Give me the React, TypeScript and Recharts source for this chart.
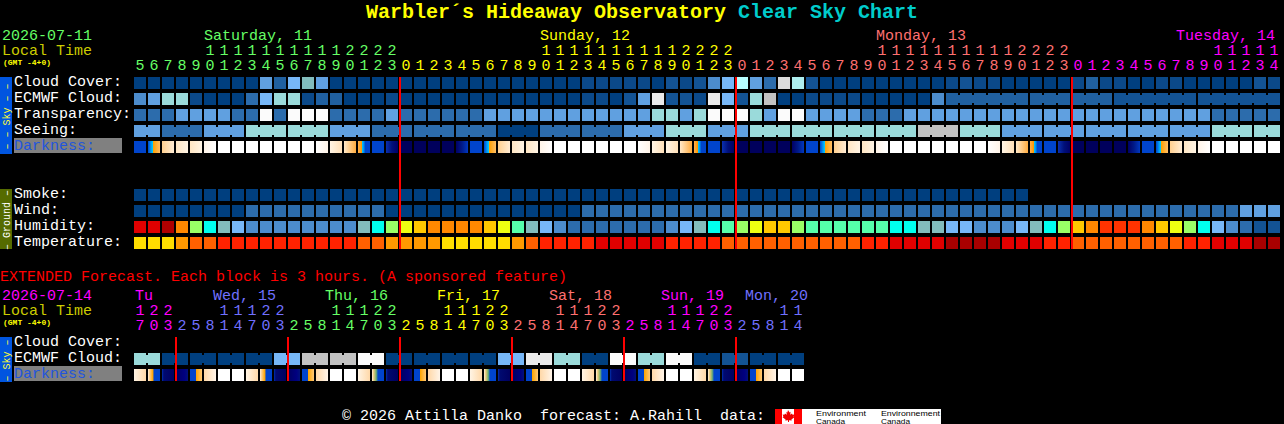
import { ScatterChart, Scatter, XAxis, YAxis, ReferenceLine } from "recharts";

// hour labels of the hourly block
const HOURS = [
  5, 6, 7, 8, 9, 10, 11, 12, 13, 14, 15, 16, 17, 18, 19, 20, 21, 22, 23,
  0, 1, 2, 3, 4, 5, 6, 7, 8, 9, 10, 11, 12, 13, 14, 15, 16, 17, 18, 19, 20, 21, 22, 23,
  0, 1, 2, 3, 4, 5, 6, 7, 8, 9, 10, 11, 12, 13, 14, 15, 16, 17, 18, 19, 20, 21, 22, 23,
  0, 1, 2, 3, 4, 5, 6, 7, 8, 9, 10, 11, 12, 13, 14,
];
const DAY_INDEX = [
  0, 0, 0, 0, 0, 0, 0, 0, 0, 0, 0, 0, 0, 0, 0, 0, 0, 0, 0,
  1, 1, 1, 1, 1, 1, 1, 1, 1, 1, 1, 1, 1, 1, 1, 1, 1, 1, 1, 1, 1, 1, 1, 1,
  2, 2, 2, 2, 2, 2, 2, 2, 2, 2, 2, 2, 2, 2, 2, 2, 2, 2, 2, 2, 2, 2, 2, 2,
  3, 3, 3, 3, 3, 3, 3, 3, 3, 3, 3, 3, 3, 3, 3,
];
const DAY_COLORS = ["#66ff66", "#ffff00", "#ff7070", "#ff00ff"];

// hour labels of the 3-hour block
const EXT_HOURS = [
  17, 20, 23,
  2, 5, 8, 11, 14, 17, 20, 23,
  2, 5, 8, 11, 14, 17, 20, 23,
  2, 5, 8, 11, 14, 17, 20, 23,
  2, 5, 8, 11, 14, 17, 20, 23,
  2, 5, 8, 11, 14, 17, 20, 23,
  2, 5, 8, 11, 14,
];
const EXT_DAY_INDEX = [
  0, 0, 0,
  1, 1, 1, 1, 1, 1, 1, 1,
  2, 2, 2, 2, 2, 2, 2, 2,
  3, 3, 3, 3, 3, 3, 3, 3,
  4, 4, 4, 4, 4, 4, 4, 4,
  5, 5, 5, 5, 5, 5, 5, 5,
  6, 6, 6, 6, 6,
];
const EXT_DAY_COLORS = ["#ff00ff", "#7070ff", "#66ff66", "#ffff00", "#ff7070", "#ff00ff", "#7070ff"];

const SKY_LABELS = ["Cloud Cover:", "ECMWF Cloud:", "Transparency:", "Seeing:", "Darkness:"];
const GROUND_LABELS = ["Smoke:", "Wind:", "Humidity:", "Temperature:"];
const EXT_LABELS = ["Cloud Cover:", "ECMWF Cloud:", "Darkness:"];

const BLUE_LEVELS = [
  "#003f7f", "#0b4989", "#135394", "#2060a0", "#2c6cac", "#4c8ccc", "#60a0e0", "#77b7f7",
  "#82bcbc", "#9adada", "#aeeeee", "#c2c2c2", "#dcdcdc", "#eaeaea", "#fbfbfb", "#b8ffff",
];
const HUMIDITY_LEVELS = [
  "#b00000", "#e00000", "#ff3300", "#ff8800", "#ffc800", "#eeff11", "#99ff66", "#55ffaa",
  "#00ffee", "#82bcbc", "#77b7f7", "#4c8ccc", "#2c6cac", "#135394",
];
const TEMPERATURE_LEVELS = ["#a80000", "#e00000", "#ff2200", "#ff6000", "#ff9900", "#ffdd00"];

const CLOUD = [
  0, 0, 0, 0, 0, 0, 0, 0, 0, 6, 3, 7, 8, 6, 0, 0, 0, 0, 0,
  0, 0, 0, 0, 0, 0, 0, 0, 0, 0, 0, 0, 0, 1, 1, 1, 1, 1, 0, 2, 1, 2, 5, 7,
  15, 6, 4, 12, 10, 2, 0, 0, 0, 0, 0, 0, 0, 0, 0, 1, 2, 1, 1, 0, 0, 0, 0, 0,
  1, 3, 1, 1, 0, 0, 1, 1, 0, 0, 0, 0, 0, 2, 1,
];
const ECMWF = [
  5, 6, 9, 9, 1, 0, 0, 0, 4, 7, 9, 9, 1, 3, 3, 0, 0, 0, 1,
  0, 0, 0, 0, 0, 0, 0, 0, 0, 0, 0, 0, 0, 1, 1, 0, 2, 6, 13, 2, 2, 1, 13, 7,
  2, 9, 11, 0, 0, 1, 1, 1, 1, 0, 0, 0, 0, 0, 5, 3, 3, 3, 3, 3, 3, 3, 3, 3,
  3, 3, 3, 2, 2, 2, 2, 2, 2, 2, 2, 2, 2, 2, 2,
];
const ECMWF_RUNS = [
  1, 1, 1, 1, 1, 1, 1, 1, 1, 1, 1, 1, 1, 1, 1, 1, 1, 1, 1, 1, 1, 1, 1, 1, 1, 1, 1, 1, 1,
  1, 1, 1, 1, 1, 1, 1, 1, 1, 1, 1, 1, 1, 1, 1, 1, 1, 1, 1, 1, 1, 1, 1, 1, 1, 1, 1, 1, 1,
  6, 3, 3, 6, 6,
];
const TRANSPARENCY = [
  4, 4, 4, 6, 6, 6, 6, 4, 4, 14, 4, 14, 14, 14, 4, 4, 4, 4, 6,
  4, 4, 4, 4, 4, 4, 6, 6, 6, 6, 6, 6, 6, 6, 6, 6, 6, 6, 9, 9, 6, 9, 14, 14,
  14, 9, 6, 14, 14, 6, 6, 6, 6, 4, 4, 4, 6, 6, 6, 6, 6, 6, 6, 6, 6, 6, 6, 6,
  6, 6, 6, 6, 6, 6, 6, 6, 6, 6, 4, 4, 4, 4, 4,
];
const SEEING = [
  6, 6, 4, 4, 4, 6, 6, 6, 9, 9, 9, 9, 9, 9, 6, 6, 6, 4, 4,
  4, 4, 4, 4, 4, 4, 4, 0, 0, 0, 4, 4, 4, 4, 4, 4, 6, 6, 6, 9, 9, 9, 6, 6,
  6, 9, 9, 9, 9, 9, 9, 9, 9, 9, 9, 9, 9, 11, 11, 11, 9, 9, 9, 6, 6, 6, 6, 6,
  6, 6, 6, 6, 6, 6, 6, 6, 6, 6, 9, 9, 9, 9, 9,
];
const SEEING_RUNS = [2, 3, 3, 3, 3, 3, 3, 3, 3, 3, 3, 3, 3, 3, 3, 3, 3, 3, 3, 3, 3, 3, 3, 3, 3, 3, 3, 2];
const DARKNESS = [
  3, 4, 6, 7, 7, 8, 9, 9, 9, 9, 9, 9, 9, 10, 11, 12, 5, 3, 1,
  0, 0, 0, 0, 2, 3, 4, 6, 7, 7, 8, 9, 9, 9, 9, 9, 9, 10, 11, 11, 12, 5, 3, 1,
  0, 0, 0, 0, 2, 3, 4, 6, 7, 7, 8, 9, 9, 9, 9, 9, 9, 9, 10, 11, 12, 5, 3, 1,
  0, 0, 0, 0, 2, 3, 4, 6, 7, 8, 9, 9, 9, 9, 9,
];
const SMOKE = [
  0, 0, 0, 0, 0, 0, 0, 0, 0, 0, 0, 0, 0, 0, 0, 0, 0, 0, 0,
  0, 0, 0, 0, 0, 0, 0, 0, 0, 0, 0, 0, 0, 0, 0, 0, 0, 0, 0, 0, 0, 0, 0, 0,
  0, 0, 0, 0, 0, 0, 0, 0, 0, 0, 0, 0, 0, 0, 0, 0, 0, 0, 0, 0, 0,
];
const WIND = [
  0, 0, 0, 0, 0, 0, 0, 0, 4, 4, 4, 4, 4, 4, 4, 4, 4, 4, 0,
  0, 0, 0, 0, 0, 0, 0, 0, 0, 0, 0, 0, 0, 4, 4, 4, 4, 4, 4, 4, 4, 4, 4, 4,
  4, 4, 4, 4, 4, 4, 4, 4, 4, 4, 4, 4, 4, 4, 4, 4, 4, 4, 4, 4, 4, 4, 4, 4,
  4, 4, 4, 4, 4, 4, 4, 4, 4, 4, 4, 4, 6, 6, 6,
];
const HUMIDITY = [
  1, 1, 0, 3, 6, 8, 9, 10, 11, 11, 11, 11, 11, 11, 11, 11, 9, 8, 6,
  5, 4, 3, 3, 3, 3, 4, 5, 7, 9, 10, 11, 12, 12, 12, 12, 12, 12, 12, 11, 10, 9, 8, 7,
  6, 5, 4, 4, 6, 7, 7, 7, 7, 7, 7, 8, 8, 9, 9, 10, 10, 11, 11, 11, 10, 9, 8, 6,
  4, 3, 2, 2, 2, 3, 4, 5, 6, 8, 10, 11, 12, 13, 13,
];
const TEMPERATURE = [
  5, 5, 5, 4, 3, 3, 2, 2, 2, 2, 2, 2, 2, 2, 2, 2, 3, 3, 4,
  4, 4, 4, 5, 5, 5, 5, 5, 4, 3, 2, 2, 2, 2, 1, 1, 1, 1, 1, 2, 2, 2, 2, 3,
  3, 3, 3, 3, 3, 3, 3, 3, 3, 2, 2, 1, 1, 1, 1, 0, 0, 0, 0, 1, 1, 1, 2, 2,
  3, 3, 3, 3, 3, 3, 3, 3, 2, 2, 1, 1, 1, 0, 0,
];

const EXT_ECMWF = [
  9, 9, 0, 0, 0, 0, 0, 0, 0, 0, 7, 7, 11, 11, 11, 11, 14, 14, 0, 0, 0, 0, 0, 0,
  0, 0, 7, 7, 13, 13, 9, 9, 0, 0, 14, 14, 9, 9, 14, 14, 0, 0, 2, 2, 0, 0, 0, 0,
];
const EXT_ECMWF_RUNS = [2, 2, 2, 2, 2, 2, 2, 2, 2, 2, 2, 2, 2, 2, 2, 2, 2, 2, 2, 2, 2, 2, 2, 2];
const EXT_DARKNESS = [
  13, 14, 16, 17, 18, 19, 9, 9,
  13, 14, 16, 17, 18, 19, 9, 9,
  13, 15, 16, 17, 18, 19, 9, 9,
  13, 15, 16, 17, 18, 19, 9, 9,
  13, 15, 16, 17, 18, 19, 9, 9,
  13, 15, 16, 17, 18, 19, 9, 9,
];

// gradient stops for every darkness block, [offset, colour]
const DARK_STOPS: [number, string][][] = [
  [[0, "#00005c"], [1, "#00005c"]],
  [[0, "#0a30b0"], [0.5, "#00107a"], [1, "#000066"]],
  [[0, "#000066"], [0.5, "#001a88"], [1, "#0038c0"]],
  [[0, "#0044cc"], [1, "#0044cc"]],
  [[0, "#0044cc"], [0.2, "#0088ee"], [0.4, "#00ccff"], [0.42, "#ffa000"], [1, "#ffbe66"]],
  [[0, "#ffb050"], [0.3, "#ff9900"], [0.33, "#00ccff"], [0.5, "#0088ee"], [0.6, "#0044cc"], [1, "#0044cc"]],
  [[0, "#ffd090"], [1, "#ffecd4"]],
  [[0, "#ffe6c4"], [1, "#fff4e4"]],
  [[0, "#fff4e8"], [1, "#ffffff"]],
  [[0, "#ffffff"], [1, "#ffffff"]],
  [[0, "#ffffff"], [1, "#fff4e8"]],
  [[0, "#fff4e4"], [1, "#ffe0b8"]],
  [[0, "#ffe8c8"], [1, "#ffac40"]],
  [[0, "#fff4e4"], [1, "#ffd8a8"]],
  [[0, "#fff0dc"], [0.1, "#ffd8a0"], [0.4, "#ffa500"], [0.5, "#0044cc"], [1, "#0044cc"]],
  [[0, "#fff0dc"], [0.15, "#e8c878"], [0.35, "#70b070"], [0.5, "#0044cc"], [1, "#0044cc"]],
  [[0, "#0030b0"], [0.15, "#000a70"], [1, "#000060"]],
  [[0, "#000060"], [0.7, "#000080"], [1, "#00107a"]],
  [[0, "#0044cc"], [0.5, "#0044cc"], [0.52, "#ffa500"], [1, "#ffc878"]],
  [[0, "#ffd8a8"], [1, "#fff4e8"]],
];

const FONT = "'Liberation Mono', monospace";
const BLOCK = 12; // block size, px
const GAP = 2;
const NOTCH = 2;
const WIDTH = 1284;
const HEIGHT = 424;

interface Cell {
  x: number;
  y: number;
  fill: string;
  joined: boolean;
}

function rowCells(values: number[], row: number, colors: string[] | null, runs?: number[]): Cell[] {
  const ends = new Set<number>();
  if (runs) {
    let at = 0;
    runs.forEach((r) => {
      at += r;
      ends.add(at - 1);
    });
  }
  return values.map((v, i) => ({
    x: i,
    y: row + 0.5,
    fill: colors ? colors[v] : `url(#dark-${v})`,
    joined: !!runs && !ends.has(i) && i < values.length - 1,
  }));
}

const BlockShape = (props: any) => {
  const { cx, cy, payload } = props;
  return (
    <g>
      <rect x={cx} y={cy - BLOCK / 2} width={BLOCK} height={BLOCK} fill={payload.fill} />
      {payload.joined && (
        <rect
          x={cx + BLOCK}
          y={cy - BLOCK / 2 + NOTCH}
          width={GAP}
          height={BLOCK - NOTCH * 2}
          fill={payload.fill}
        />
      )}
    </g>
  );
};

const darkDefs = (
  <defs>
    {DARK_STOPS.map((stops, i) => (
      <linearGradient key={i} id={`dark-${i}`} x1="0" y1="0" x2="1" y2="0">
        {stops.map(([o, c], j) => (
          <stop key={j} offset={o} stopColor={c} />
        ))}
      </linearGradient>
    ))}
  </defs>
);

const hourTick = (hours: number[], dayIndex: number[], colors: string[], tensY: number, unitsY: number) => (p: any) => {
  const i = p.payload.value as number;
  const h = hours[i];
  const fill = colors[dayIndex[i]];
  return (
    <g fontFamily={FONT} fontSize={15} textAnchor="middle" fill={fill}>
      {h >= 10 && (
        <text x={p.x + 6} y={tensY} fill={fill}>
          {Math.floor(h / 10)}
        </text>
      )}
      <text x={p.x + 6} y={unitsY} fill={fill}>
        {h % 10}
      </text>
    </g>
  );
};

const rowTick = (labels: Record<number, string>) => (p: any) => {
  const label = labels[p.payload.value];
  if (!label) return <g />;
  const dark = label === "Darkness:";
  return (
    <g>
      {dark && <rect x={14} y={p.y - 9} width={108} height={15} fill="#808080" />}
      <text x={14} y={p.y + 3} fontFamily={FONT} fontSize={15} fill={dark ? "#2255dd" : "#ffffff"} textAnchor="start">
        {label}
      </text>
    </g>
  );
};

const T = ({ x, y, fill, size = 15, children, bold }: any) => (
  <text
    x={x}
    y={y}
    fill={fill}
    fontFamily={FONT}
    fontSize={size}
    fontWeight={bold ? 700 : 400}
    style={{ whiteSpace: "pre" }}
  >
    {children}
  </text>
);

const Band = ({ y, height, fill, color, label }: any) => (
  <g>
    <rect x={0} y={y} width={12} height={height} fill={fill} />
    <text
      transform={`translate(9.5 ${y + height / 2 + 1}) rotate(-90)`}
      textAnchor="middle"
      fontFamily={FONT}
      fontSize={10}
      fill={color}
    >
      {label}
    </text>
  </g>
);

const MAIN_ROW_LABELS: Record<number, string> = {
  0.5: SKY_LABELS[0],
  1.5: SKY_LABELS[1],
  2.5: SKY_LABELS[2],
  3.5: SKY_LABELS[3],
  4.5: SKY_LABELS[4],
  7.5: GROUND_LABELS[0],
  8.5: GROUND_LABELS[1],
  9.5: GROUND_LABELS[2],
  10.5: GROUND_LABELS[3],
};
const EXT_ROW_LABELS: Record<number, string> = {
  0.5: EXT_LABELS[0],
  1.5: EXT_LABELS[1],
  2.5: EXT_LABELS[2],
};

const MIDNIGHTS = [19, 43, 67];
const EXT_MIDNIGHTS = [3, 11, 19, 27, 35, 43];

function MainChart() {
  const series = [
    rowCells(CLOUD, 0, BLUE_LEVELS),
    rowCells(ECMWF, 1, BLUE_LEVELS, ECMWF_RUNS),
    rowCells(TRANSPARENCY, 2, BLUE_LEVELS),
    rowCells(SEEING, 3, BLUE_LEVELS, SEEING_RUNS),
    rowCells(DARKNESS, 4, null),
    rowCells(SMOKE, 7, BLUE_LEVELS),
    rowCells(WIND, 8, BLUE_LEVELS),
    rowCells(HUMIDITY, 9, HUMIDITY_LEVELS),
    rowCells(TEMPERATURE, 10, TEMPERATURE_LEVELS),
  ];
  return (
    <ScatterChart
      width={WIDTH}
      height={HEIGHT}
      margin={{ top: 0, right: 2, bottom: 173, left: 0 }}
      style={{ position: "absolute", left: 0, top: 0 }}
    >
      {darkDefs}
      <XAxis
        xAxisId={0}
        type="number"
        dataKey="x"
        orientation="top"
        height={75}
        domain={[0, 82]}
        ticks={HOURS.map((_, i) => i)}
        interval={0}
        axisLine={false}
        tickLine={false}
        tick={hourTick(HOURS, DAY_INDEX, DAY_COLORS, 55, 70)}
      />
      <YAxis
        yAxisId={0}
        type="number"
        dataKey="y"
        reversed
        width={134}
        domain={[0, 11]}
        ticks={Object.keys(MAIN_ROW_LABELS).map(Number)}
        interval={0}
        axisLine={false}
        tickLine={false}
        tick={rowTick(MAIN_ROW_LABELS)}
      />
      {series.map((cells, i) => (
        <Scatter key={i} data={cells} shape={BlockShape} isAnimationActive={false} />
      ))}

      <text x={366} y={18} fontFamily={FONT} fontSize={20} fontWeight={700}>
        <tspan fill="#ffff00">Warbler´s Hideaway Observatory </tspan>
        <tspan fill="#00cccc">Clear Sky Chart</tspan>
      </text>

      <T x={2} y={40} fill="#66ff66">2026-07-11</T>
      <T x={2} y={55} fill="#cccc00">Local Time</T>
      <T x={3} y={65} fill="#ffff00" size={8} bold>(GMT -4+0)</T>
      <T x={204} y={40} fill={DAY_COLORS[0]}>Saturday, 11</T>
      <T x={540} y={40} fill={DAY_COLORS[1]}>Sunday, 12</T>
      <T x={876} y={40} fill={DAY_COLORS[2]}>Monday, 13</T>
      <T x={1176} y={40} fill={DAY_COLORS[3]}>Tuesday, 14</T>

      <Band y={77} height={77} fill="#0055e0" color="#ffff33" label="– – Sky – –" />
      <Band y={189} height={60} fill="#556b00" color="#ffffff" label="– Ground –" />

      <T x={0} y={281} fill="#ff0000">EXTENDED Forecast. Each block is 3 hours. (A sponsored feature)</T>

      <T x={342} y={420} fill="#ffffff">© 2026 Attilla Danko  forecast: A.Rahill  data:</T>
      <g>
        <rect x={775} y={409} width={166} height={15} fill="#ffffff" />
        <rect x={775} y={409} width={7} height={15} fill="#ff0000" />
        <rect x={794} y={409} width={8} height={15} fill="#ff0000" />
        <path
          d="M788 410 l1.6 2.4 1-.6 -.4 3 1.8-1.2 .6 1.2 1.8-.2 -.8 2 .8.6 -3 2.2 .4 1.2 -2.8-.4 V422 h-1 v-1.8 l-2.8.4 .4-1.2 -3-2.2 .8-.6 -.8-2 1.8.2 .6-1.2 1.8 1.2 -.4-3 1 .6z"
          fill="#ee0000"
        />
        <g fontFamily="'Liberation Sans', sans-serif" fontSize={7} fill="#000000">
          <text x={816} y={415.5} textLength={50} lengthAdjust="spacingAndGlyphs">Environment</text>
          <text x={816} y={423.5} textLength={29} lengthAdjust="spacingAndGlyphs">Canada</text>
          <text x={881} y={415.5} textLength={59} lengthAdjust="spacingAndGlyphs">Environnement</text>
          <text x={881} y={423.5} textLength={29} lengthAdjust="spacingAndGlyphs">Canada</text>
        </g>
      </g>
    </ScatterChart>
  );
}

function ExtendedChart() {
  const series = [
    rowCells(EXT_ECMWF, 1, BLUE_LEVELS, EXT_ECMWF_RUNS),
    rowCells(EXT_DARKNESS, 2, null),
  ];
  return (
    <ScatterChart
      width={WIDTH}
      height={HEIGHT}
      margin={{ top: 0, right: 2, bottom: 41, left: 0 }}
      style={{ position: "absolute", left: 0, top: 0 }}
    >
      <XAxis
        xAxisId={0}
        type="number"
        dataKey="x"
        orientation="top"
        height={335}
        domain={[0, 82]}
        ticks={EXT_HOURS.map((_, i) => i)}
        interval={0}
        axisLine={false}
        tickLine={false}
        tick={hourTick(EXT_HOURS, EXT_DAY_INDEX, EXT_DAY_COLORS, 315, 330)}
      />
      <YAxis
        yAxisId={0}
        type="number"
        dataKey="y"
        reversed
        width={134}
        domain={[0, 3]}
        ticks={Object.keys(EXT_ROW_LABELS).map(Number)}
        interval={0}
        axisLine={false}
        tickLine={false}
        tick={rowTick(EXT_ROW_LABELS)}
      />
      {series.map((cells, i) => (
        <Scatter key={i} data={cells} shape={BlockShape} isAnimationActive={false} />
      ))}

      <T x={2} y={300} fill="#ff00ff">2026-07-14</T>
      <T x={2} y={315} fill="#cccc00">Local Time</T>
      <T x={3} y={325} fill="#ffff00" size={8} bold>(GMT -4+0)</T>
      <T x={135} y={300} fill={EXT_DAY_COLORS[0]}>Tu</T>
      <T x={213} y={300} fill={EXT_DAY_COLORS[1]}>Wed, 15</T>
      <T x={325} y={300} fill={EXT_DAY_COLORS[2]}>Thu, 16</T>
      <T x={437} y={300} fill={EXT_DAY_COLORS[3]}>Fri, 17</T>
      <T x={549} y={300} fill={EXT_DAY_COLORS[4]}>Sat, 18</T>
      <T x={661} y={300} fill={EXT_DAY_COLORS[5]}>Sun, 19</T>
      <T x={745} y={300} fill={EXT_DAY_COLORS[6]}>Mon, 20</T>

      <Band y={337} height={45} fill="#0055e0" color="#ffff33" label="– Sky –" />
    </ScatterChart>
  );
}

// red midnight lines: each a two-point series drawn last, so the blocks cannot cover them
const NoPoint = () => <g />;

function MidnightLines() {
  const lines = [
    ...MIDNIGHTS.map((m) => [{ x: m, y: 77 }, { x: m, y: 249 }]),
    ...EXT_MIDNIGHTS.map((m) => [{ x: m, y: 337 }, { x: m, y: 381 }]),
  ];
  return (
    <ScatterChart
      width={WIDTH}
      height={HEIGHT}
      margin={{ top: 0, right: 2, bottom: 0, left: 134 }}
      style={{ position: "absolute", left: 0, top: 0 }}
    >
      <XAxis xAxisId={0} type="number" dataKey="x" hide domain={[0, 82]} />
      <YAxis yAxisId={0} type="number" dataKey="y" hide reversed domain={[0, HEIGHT]} />
      {lines.map((pts, i) => (
        <Scatter
          key={i}
          data={pts}
          line={{ stroke: "#ff0000", strokeWidth: 2 }}
          shape={NoPoint}
          isAnimationActive={false}
        />
      ))}
    </ScatterChart>
  );
}

export default function App() {
  return (
    <div style={{ position: "absolute", left: 0, top: 0, width: WIDTH, height: HEIGHT, background: "#000000", overflow: "hidden" }}>
      <MainChart />
      <ExtendedChart />
      <MidnightLines />
    </div>
  );
}
